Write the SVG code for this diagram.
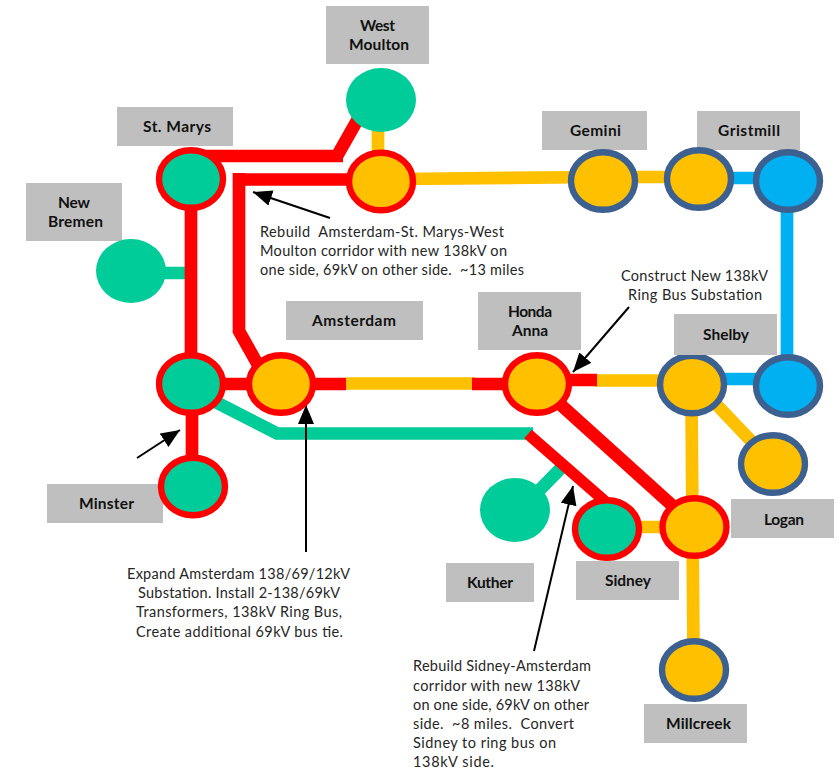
<svg xmlns="http://www.w3.org/2000/svg" width="839" height="770" viewBox="0 0 839 770">
<defs><marker id="a" markerUnits="userSpaceOnUse" markerWidth="20" markerHeight="18" refX="19" refY="8" orient="auto"><path d="M0 0L19 8L0 16Z" fill="#000"/></marker></defs>
<style>
.l{fill:#bfbfbf}
.t{font:700 15.5px Lato,"Liberation Sans",Arial,sans-serif;fill:#111}
.n{font:14.5px Lato,"Liberation Sans",Arial,sans-serif;fill:#262626;white-space:pre}
.r{stroke:#ff0000;fill:none;stroke-width:12.7}
.y{stroke:#ffc000;fill:none;stroke-width:12.7}
.b{stroke:#00b0f0;fill:none;stroke-width:12.7}
.g{stroke:#00cc99;fill:none;stroke-width:12.7}
.ar{stroke:#000;stroke-width:2;fill:none;marker-end:url(#a)}
.gf{fill:#00cc99}
.yf{fill:#ffc000}
.bf{fill:#00b0f0}
.rs{stroke:#ff0000;stroke-width:6.4}
.ns{stroke:#3c6090;stroke-width:6.4}
</style>
<rect width="839" height="770" fill="#fff"/>
<g id="connectors">
<path class="y" d="M378 125V165"/>
<path class="y" d="M400 179L603 177"/>
<path class="y" d="M603 177H699"/>
<path class="b" d="M699 178H788"/>
<path class="b" d="M787 190V370"/>
<path class="b" d="M692 379H788"/>
<path class="y" d="M346 383.500H475"/>
<path class="y" d="M595 380.500H692"/>
<path class="y" d="M691.500 400L693.500 650"/>
<path class="y" d="M715 403L772 463"/>
<path class="y" d="M620 527H690"/>
<path class="g" d="M150 273H185"/>
<path class="g" d="M525 505L563 466"/>
<path class="g" d="M200 394L277 433.500H533"/>
<path class="r" d="M191 190V365"/>
<path class="r" d="M192 400V480"/>
<path class="r" d="M191 156H343"/>
<path class="r" d="M337 156L358 119"/>
<path class="r" d="M191 384H346"/>
<path class="r" d="M239 179.500H390"/>
<path class="r" d="M239 173V331L262 372"/>
<path class="r" d="M472 384H537"/>
<path class="r" d="M537 380H597"/>
<path class="r" d="M541 387L680 512.500"/>
<path class="r" d="M528 434L607 503" style="stroke-width:11.500"/>
<path class="ar" d="M330 218L253 192"/>
<path class="ar" d="M629 307L573 372"/>
<path class="ar" d="M306 552V405"/>
<path class="ar" d="M137 458L180 430"/>
<path class="ar" d="M534 651L573 486"/>
</g>
<g id="west-moulton"><rect class="l" x="326" y="6" width="103" height="58"/><text class="t" x="360" y="31" textLength="35">West</text><text class="t" x="349" y="50" textLength="60">Moulton</text><ellipse class="gf" cx="381" cy="100" rx="35" ry="32"/></g>
<g id="west-moulton-138"><ellipse class="yf rs" cx="381" cy="181.500" rx="32" ry="28.800"/></g>
<g id="st-marys"><rect class="l" x="117" y="107" width="116" height="39"/><text class="t" x="143" y="132" textLength="68">St. Marys</text><ellipse class="gf rs" cx="191" cy="179" rx="32" ry="28.800"/></g>
<g id="gemini"><rect class="l" x="542" y="111" width="105" height="39"/><text class="t" x="570" y="136" textLength="51">Gemini</text><ellipse class="yf ns" cx="603" cy="181" rx="32" ry="28.800"/></g>
<g id="gristmill"><rect class="l" x="697" y="111" width="103" height="39"/><text class="t" x="718" y="136" textLength="62">Gristmill</text><ellipse class="bf ns" cx="788" cy="181" rx="32" ry="28.800"/></g>
<g id="gemini-2"><ellipse class="yf ns" cx="699" cy="179" rx="32" ry="28.800"/></g>
<g id="new-bremen"><rect class="l" x="26" y="183" width="96" height="58"/><text class="t" x="58" y="208" textLength="32">New</text><text class="t" x="48" y="227" textLength="55">Bremen</text><ellipse class="gf" cx="131" cy="271" rx="35" ry="32"/></g>
<g id="amsterdam"><rect class="l" x="286" y="301" width="137" height="39"/><text class="t" x="312" y="326" textLength="84">Amsterdam</text><ellipse class="yf rs" cx="281" cy="384" rx="32" ry="28.800"/></g>
<g id="amsterdam-69"><ellipse class="gf rs" cx="191" cy="384" rx="32" ry="28.800"/></g>
<g id="minster"><rect class="l" x="47" y="484" width="116" height="39"/><text class="t" x="79" y="509" textLength="55">Minster</text><ellipse class="gf rs" cx="193" cy="486.500" rx="32" ry="28.800"/></g>
<g id="honda-anna"><rect class="l" x="478" y="292" width="103" height="58"/><text class="t" x="508" y="317" textLength="44">Honda</text><text class="t" x="512" y="336" textLength="36">Anna</text><ellipse class="yf rs" cx="537" cy="384" rx="32" ry="28.800"/></g>
<g id="shelby"><ellipse class="yf ns" cx="692" cy="384.500" rx="32" ry="28.800"/><rect class="l" x="674" y="314" width="103" height="41"/><text class="t" x="703" y="340" textLength="46">Shelby</text></g>
<g id="shelby-2"><ellipse class="bf ns" cx="788" cy="386" rx="32" ry="28.800"/></g>
<g id="logan"><rect class="l" x="731" y="499" width="103" height="39"/><text class="t" x="764" y="525" textLength="40">Logan</text><ellipse class="yf ns" cx="773" cy="464" rx="32" ry="28.800"/></g>
<g id="kuther"><rect class="l" x="446" y="563" width="88" height="39"/><text class="t" x="467" y="588" textLength="46">Kuther</text><ellipse class="gf" cx="515" cy="510" rx="35" ry="32"/></g>
<g id="sidney-138"><ellipse class="yf rs" cx="694.500" cy="527" rx="32" ry="28.800"/></g>
<g id="sidney"><rect class="l" x="576" y="561" width="103" height="39"/><text class="t" x="605" y="586" textLength="46">Sidney</text><ellipse class="gf rs" cx="607" cy="529" rx="32" ry="28.800"/></g>
<g id="millcreek"><rect class="l" x="644" y="704" width="103" height="39"/><text class="t" x="666" y="729" textLength="65">Millcreek</text><ellipse class="yf ns" cx="694" cy="670" rx="32" ry="28.800"/></g>
<g id="notes">
<text class="n" x="260" y="237" textLength="244">Rebuild  Amsterdam-St. Marys-West</text>
<text class="n" x="260" y="256" textLength="247">Moulton corridor with new 138kV on</text>
<text class="n" x="260" y="275" textLength="264">one side, 69kV on other side.  ~13 miles</text>
<text class="n" x="621" y="281" textLength="147">Construct New 138kV</text>
<text class="n" x="628" y="300" textLength="134">Ring Bus Substation</text>
<text class="n" x="127" y="579" textLength="223">Expand Amsterdam 138/69/12kV</text>
<text class="n" x="138" y="598" textLength="202">Substation. Install 2-138/69kV</text>
<text class="n" x="136" y="617" textLength="206">Transformers, 138kV Ring Bus,</text>
<text class="n" x="136" y="637" textLength="207">Create additional 69kV bus tie.</text>
<text class="n" x="413" y="671" textLength="178">Rebuild Sidney-Amsterdam</text>
<text class="n" x="413" y="691" textLength="167">corridor with new 138kV</text>
<text class="n" x="413" y="710" textLength="176">on one side, 69kV on other</text>
<text class="n" x="413" y="729" textLength="161">side.  ~8 miles.  Convert</text>
<text class="n" x="413" y="748" textLength="143">Sidney to ring bus on</text>
<text class="n" x="413" y="767" textLength="81">138kV side.</text>
</g>
</svg>
